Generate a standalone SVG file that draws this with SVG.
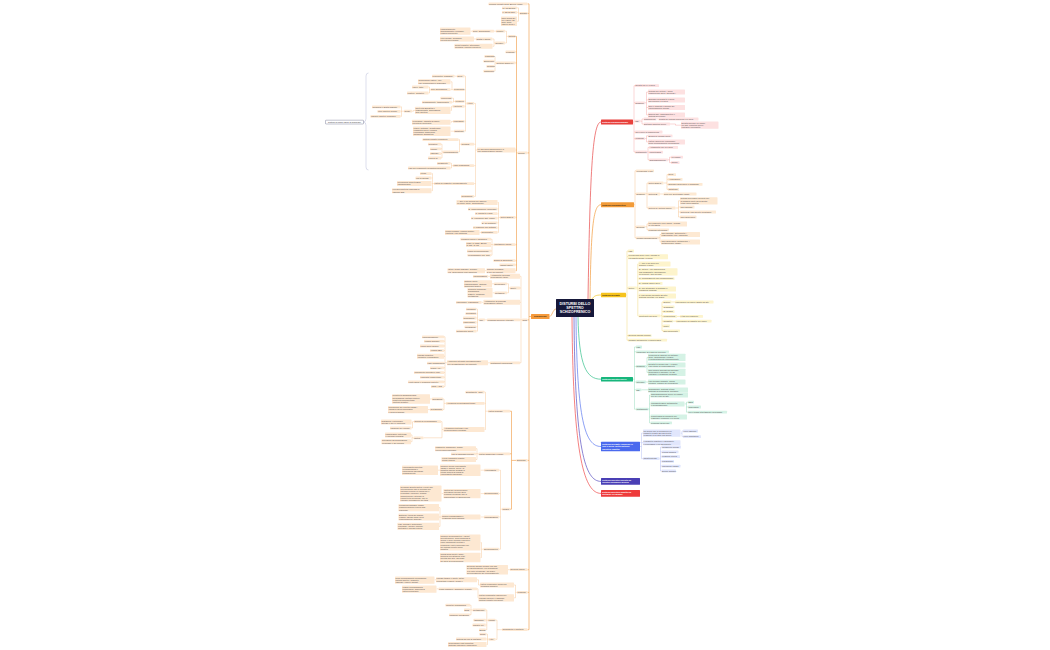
<svg xmlns="http://www.w3.org/2000/svg" width="1050" height="650" viewBox="0 0 1050 650">
<style>
text{font-family:"Liberation Sans",Arial,sans-serif;font-size:2.1px;fill:#4d4d4d}
rect{rx:0.5px;ry:0.5px}
.o rect{fill:#fde8d2}
.r rect{fill:#fde1e1}
.a rect{fill:#fde9d3}
.y rect{fill:#fdf4cc}
.g rect{fill:#d5f2e5}
.b rect{fill:#e1e6fc}
.k text{font-weight:bold;fill:#fff}
.kd text{font-weight:bold;fill:#3a2a12}
#connectors path{fill:none}
.lo{stroke:#f5bd85;stroke-width:0.4}
.ls{stroke:#f2a659;stroke-width:0.7}
.lr{stroke:#f29b9b;stroke-width:0.4}
.la{stroke:#f5b878;stroke-width:0.4}
.ly{stroke:#f0d25e;stroke-width:0.4}
.lg{stroke:#7dd3ae;stroke-width:0.4}
.lb{stroke:#a3b1f3;stroke-width:0.4}
.m{stroke-width:0.7}
</style>
<rect x="0" y="0" width="1050" height="650" fill="#ffffff" style="rx:0"/>
<g id="connectors">
<path class="m" stroke="#f2a04a" d="M556,309C553,309 552,316.5 549.5,316.5"/>
<path class="m" stroke="#e84848" d="M588,299C590,180 592,122 601,122"/>
<path class="m" stroke="#f29b3b" d="M590,299C591,230 593,204.7 601,204.7"/>
<path class="m" stroke="#f3c623" d="M592,299C594,296 596,295 601,295"/>
<path class="m" stroke="#33c08b" d="M578,317C579,365 586,379.2 601,379.2"/>
<path class="m" stroke="#5b78ef" d="M576,317C577,420 585,446.5 601,446.5"/>
<path class="m" stroke="#5a50c0" d="M574,317C575,450 585,481.4 601,481.4"/>
<path class="m" stroke="#ef4a4a" d="M572,317C573,460 585,493.4 601,493.4"/>
<path class="ls" d="M531,316.5H529M529,3.9V629.7M529,3.9H527.5M529,13.4H527.5M529,152.9H527.5M529,319.9H527.5M529,460.4H527.5M529,569.7H527.5M529,592.4H527.5M529,629.7H527.5"/>
<path class="lo" d="M519.5,13.4H518.5M518.5,7.9V21.2M518.5,7.9H517M518.5,12.4H517M518.5,21.2H517"/>
<path class="ls" d="M517.5,152.9H516.5M516.5,36.4V270.7M516.5,36.4H515.5M516.5,51.9H515.5M516.5,62.9H515.5M516.5,150H515.5M516.5,217.4H515.5M516.5,244.6H515.5M516.5,260.6H515.5M516.5,264.9H515.5M516.5,270.7H515.5"/>
<path class="lo" d="M508,36.4H506.5M506.5,31.2V43M506.5,31.2H505M506.5,43H505M496,31.2H494M472.5,31.2H470.5M495,43H494M494,39V46.3M494,39H492.5M494,46.3H492.5M476,39H474"/>
<path class="lo" d="M496,62.9H495M495,56.4V71.2M495,56.4H494M495,61.2H494M495,66.4H494M495,71.2H494"/>
<path class="lo" d="M477,150H475.5M475.5,103.4V196.4M475.5,103.4H474M475.5,144.2H474M475.5,165.7H474M475.5,183.6H474M475.5,196.4H474"/>
<path class="lo" d="M466.5,103.4H465.5M465.5,76.2V131.2M465.5,76.2H464.5M465.5,89.7H464.5M465.5,101.4H464.5M465.5,106.4H464.5M465.5,121.4H464.5M465.5,131.2H464.5M457,76.2H454.5"/>
<path class="lo" d="M453.5,89.7H452M452,81.8V89.7M452,81.8H450.5M452,89.7H450.5M430.5,89.7H429.5M429.5,87V93M429.5,87H428.5M429.5,93H428.5"/>
<path class="lo" d="M455,101.4H453.5M453.5,98.2V102.2M453.5,98.2H452M453.5,102.2H452M452.5,106.4H451.5V110.4H450.5M415,110.4H413.5V111.2H412M404,111.2H401.5M401.5,106.8V116.4M401.5,106.8H400.5M401.5,111.4H400.5M401.5,116.4H400.5"/>
<path class="lo" d="M453,121.4H451.5V122.3H450.5M454,131.2H450.5"/>
<path class="lo" d="M461,144.2H459.5M459.5,139.6V152M459.5,139.6H458.5M459.5,152H458.5M443,152H442M442,144.2V158M442,144.2H441M442,148.8H441M442,153.6H441M442,158H441"/>
<path class="lo" d="M453,165.7H451.5M451.5,163.4V168M451.5,163.4H450.5M451.5,168H450.5M434,183.6H432.5M432.5,173.6V190.7M432.5,173.6H431.5M432.5,178H431.5M432.5,183.5H431.5M432.5,190.7H431.5"/>
<path class="lo" d="M500,217.4H498.5M498.5,202.5V232.4M498.5,202.5H497.5M498.5,209H497.5M498.5,213.6H497.5M498.5,218.2H497.5M498.5,222.8H497.5M498.5,227.6H497.5M498.5,232.4H497.5M481,232.4H479.5"/>
<path class="lo" d="M493.5,244.6H492M492,239.2V255.2M492,239.2H491M492,244.5H491M492,251H491M492,255.2H491M486.5,270.7H485"/>
<path class="lo" d="M522,319.9H521M521,276.3V362.8M521,276.3H520M521,288H520M521,302.3H520M521,319.9H520M521,362.8H520M490,276.3H488"/>
<path class="lo" d="M510,288H508.5M508.5,283.8V292.8M508.5,283.8H507M508.5,292.8H507M494,283.8H492M494.5,292.8H492.5M483.5,302.3H481.5M487,319.9H485"/>
<path class="lo" d="M479,319.9H477.5M477.5,309.2V331.2M477.5,309.2H476.5M477.5,313.6H476.5M477.5,318H476.5M477.5,322.4H476.5M477.5,326.8H476.5M477.5,331.2H476.5M490,362.8H488"/>
<path class="lo" d="M447,362.8H445M445,336.8V386.6M445,336.8H444M445,341.2H444M445,346H444M445,350.6H444M445,356.3H444M445,363.2H444M445,367.8H444M445,372.6H444M445,377.2H444M445,381.8H444M445,386.6H444"/>
<path class="ls" d="M516.5,460.4H511.5M511.5,411.2V509.2M511.5,411.2H510M511.5,453.8H510M511.5,509.2H510"/>
<path class="lo" d="M488,411.2H485.5M485.5,392.2V429.5M485.5,392.2H484.5M485.5,403.4H484.5M485.5,429.5H484.5M446,403.4H444M444,399V409.6M444,399H443M444,409.6H443M432,399H430M430,409.6H428"/>
<path class="lo" d="M443.5,429.5H442M442,421.6V437.8M442,421.6H441M442,437.8H423.5M414,421.6H412.5M412.5,422.1V428M412.5,422.1H411.5M412.5,428H411.5M413.5,437.8H412M412,434.9V441.7M412,434.9H411M412,441.7H411"/>
<path class="lo" d="M478.5,453.8H477M477,448.7V459.5M477,448.7H476M477,453.8H476M477,459.5H476"/>
<path class="lo" d="M502,509.2H500.5M500.5,470.2V549.2M500.5,470.2H499M500.5,493.6H499M500.5,517H499M500.5,549.2H499M484,470.2H480.5M440,470.2H438M484,493.6H480.5M443.5,493.6H441.5M484,517H480.5"/>
<path class="lo" d="M441.5,517H440M440,507.6V526.4M440,507.6H439M440,517H439M440,526.4H439M483.5,549.2H481.5M481.5,542.6V557.5M481.5,542.6H480.5M481.5,557.5H480.5"/>
<path class="lo" d="M510,569.7H508M517,592.4H515.5M515.5,585V597.8M515.5,585H514M515.5,597.8H514M480,585H478.5V579.8H477M436,579.8H434.5M478.5,597.8H478V588.8H477M438.5,588.8H436.5"/>
<path class="lo" d="M502,629.7H497M497,620.2V639.4M497,620.2H495.5M497,639.4H495.5M488,620.2H486.8M486.8,610V629.8M486.8,610H485.8M486.8,620.2H485.8M486.8,625H485.8M486.8,629.8H485.8"/>
<path class="lo" d="M472.5,610H471M471,605.2V614.8M471,605.2H470M471,610H470M471,614.8H470M488.5,639.4H487.5M487.5,634.2V644.5M487.5,634.2H486.5M487.5,639H486.5M487.5,644.5H486.5"/>
<path stroke="#a7abcf" stroke-width="0.4" d="M368.5,73Q366,73 366,76V118.5Q366,122 363.5,122Q366,122 366,125.5V167Q366,170 368.5,170"/>
<path class="lr" d="M633,122H634M634,85.7V152M634,85.7H635M634,102.8H635M634,121.2H635M634,132H635M634,138.6H635M634,152H635"/>
<path class="lr" d="M645,102.8H646.5M646.5,92.1V114.9M646.5,92.1H648M646.5,99.9H648M646.5,107.5H648M646.5,114.9H648"/>
<path class="lr" d="M640.5,121.2H642M642,119V124M642,119H643.5M642,124H643.5M656.5,119H658.5M670,124H675.5V125.2H681"/>
<path class="lr" d="M645,138.6H646.5M646.5,135.8V141.9M646.5,135.8H648M646.5,141.9H648M647,152H648M648,147.4V159.8M648,147.4H649M648,152.2H649M648,159.8H649M668,159.8H669.5M669.5,157.2V162.6M669.5,157.2H671M669.5,162.6H671"/>
<path class="la" d="M634,204.7H635M635,170.8V237.8M635,170.8H636M635,193.8H636M635,226.8H636M635,237.8H636"/>
<path class="la" d="M646,193.8H647M647,183V208M647,183H648M647,194H648M647,208H648M663.5,183H667M667,174.6V189.4M667,174.6H668M667,179.4H668M667,184.4H668M667,189.4H668M660,194H663.5"/>
<path class="la" d="M675.5,208H678.5M678.5,200.8V217M678.5,200.8H680M678.5,207H680M678.5,212H680M678.5,217H680"/>
<path class="la" d="M645,226.8H647M647,223.9V229.8M647,223.9H648M647,229.8H648M659,237.8H660M660,234.5V241.9M660,234.5H661M660,241.9H661"/>
<path class="ly" d="M626,295H627M627,251V340.2M627,251H628M627,256.7H628M627,288H628M627,335.6H628M627,340.2H628"/>
<path class="ly" d="M637,288H637.8M637.8,263.9V315.8M637.8,263.9H638.5M637.8,271.8H638.5M637.8,278.6H638.5M637.8,283.4H638.5M637.8,289.1H638.5M637.8,295.9H638.5M637.8,315.8H638.5"/>
<path class="ly" d="M660.5,315.8H662M662,302V330.8M662,302H663M662,306.8H663M662,311.6H663M662,316.4H663M662,321.2H663M662,326H663M662,330.8H663M671.5,302H675M677,316.4H680M673,321.2H676"/>
<path class="lg" d="M633,379.2H634.5M634.5,347V409.2M634.5,347H636M634.5,351.8H636M634.5,366.4H636M634.5,382H636M634.5,389.8H636M634.5,409.2H636"/>
<path class="lg" d="M646,366.4H647M647,357.4V372.4M647,357.4H648M647,364.9H648M647,372.4H648M646,382H648M641.5,389.8H648"/>
<path class="lg" d="M648.5,409.2H649.5M649.5,395.1V422.8M649.5,395.1H650.5M649.5,403.9H650.5M649.5,416.9H650.5M649.5,422.8H650.5M684.5,403.9H686.5M686.5,402.2V412.2M686.5,402.2H688M686.5,407H688M686.5,412.2H688"/>
<path class="lb" d="M640,446.5H641.5M641.5,433.2V458.6M641.5,433.2H643M641.5,442.7H643M641.5,458.6H643M680.5,433.2H682M682,431V436.6M682,431H683M682,436.6H683"/>
<path class="lb" d="M659.5,458.6H660.5M660.5,447V471M660.5,447H661.5M660.5,451.8H661.5M660.5,456.6H661.5M660.5,461.4H661.5M660.5,466.2H661.5M660.5,471H661.5"/>
</g>
<g id="center"><rect x="556" y="299" width="38" height="18" fill="#16183a"/><text x="575" y="304.6" text-anchor="middle" style="font-size:3.7px;font-weight:bold;fill:#fff">DISTURBI DELLO<tspan x="575" dy="4.4">SPETTRO</tspan><tspan x="575" dy="4.4">SCHIZOFRENICO</tspan></text></g>
<g id="schizofrenia" class="kd"><rect x="531" y="314" width="18.5" height="5" fill="#f59a3c"/><text x="540.25" y="317.3" text-anchor="middle">Schizofrenia</text></g>
<g id="brace-note"><rect x="325.5" y="120.2" width="38" height="3.8" fill="#fff" stroke="#2c2f5a" stroke-width="0.3"/><text x="344.5" y="122.8" text-anchor="middle" style="fill:#333">Sintomi di primo rango di Schneider</text></g>
<g id="l1a" class="o"><rect x="488.5" y="2.5" width="39" height="2.8"/><text x="489.1" y="4.6">Termine coniato da E. Bleuler (1911)</text></g>
<g id="esordio" class="o"><rect x="519.5" y="12" width="8" height="2.8"/><text x="520.1" y="14.1">Esordio</text></g>
<g id="es1" class="o"><rect x="502" y="6.5" width="15" height="2.8"/><text x="502.6" y="8.6">M: 15-25 anni</text></g>
<g id="es2" class="o"><rect x="502" y="11" width="15" height="2.8"/><text x="502.6" y="13.1">F: 25-35 anni</text></g>
<g id="es3" class="o"><rect x="501" y="16.5" width="16" height="9.4"/><text x="501.6" y="18.6">Raro prima dei<tspan x="501.6" dy="2.2">10 e dopo i 50</tspan><tspan x="501.6" dy="2.2">anni; picco</tspan><tspan x="501.6" dy="2.2">tardivo nella F</tspan></text></g>
<g id="clinica" class="o"><rect x="517.5" y="151.5" width="10" height="2.8"/><text x="518.1" y="153.6">Clinica</text></g>
<g id="c1" class="o"><rect x="508" y="35" width="7.5" height="2.8"/><text x="508.5" y="37.1">Sintomi</text></g>
<g id="c1a" class="o"><rect x="496" y="29.8" width="9" height="2.8"/><text x="496.6" y="31.9">Positivi</text></g>
<g id="c1a1" class="o"><rect x="472.5" y="29.8" width="21.5" height="2.8"/><text x="473.1" y="31.9">deliri, allucinazioni</text></g>
<g id="c1a1a" class="o"><rect x="440" y="27.6" width="30.5" height="7.2"/><text x="440.6" y="29.7">comportamento<tspan x="440.6" dy="2.2">disorganizzato o bizzarro,</tspan><tspan x="440.6" dy="2.2">eloquio incoerente</tspan></text></g>
<g id="c1b" class="o"><rect x="495" y="41.6" width="10" height="2.8"/><text x="495.6" y="43.7">Negativi</text></g>
<g id="c1b1" class="o"><rect x="476" y="37.6" width="16.5" height="2.8"/><text x="476.6" y="39.7">apatia e abulia</text></g>
<g id="c1b1a" class="o"><rect x="440" y="36.6" width="34" height="5"/><text x="440.6" y="38.7">ritiro sociale, anedonia,<tspan x="440.6" dy="2.2">povertà dell'eloquio</tspan></text></g>
<g id="c1b2" class="o"><rect x="454.5" y="43.8" width="38" height="5"/><text x="455.1" y="45.9">deficit cognitivi: attenzione,<tspan x="455.1" dy="2.2">memoria, funzioni esecutive</tspan></text></g>
<g id="c2" class="o"><rect x="505.5" y="50.5" width="10" height="2.8"/><text x="506.1" y="52.6">Prodromi</text></g>
<g id="c3" class="o"><rect x="496" y="61.5" width="19.5" height="2.8"/><text x="496.6" y="63.6">Sottotipi (DSM-IV)</text></g>
<g id="c3a" class="o"><rect x="484.5" y="55" width="9.5" height="2.8"/><text x="485.1" y="57.1">Paranoide</text></g>
<g id="c3b" class="o"><rect x="483.5" y="59.8" width="10.5" height="2.8"/><text x="484.1" y="61.9">Ebefrenico</text></g>
<g id="c3c" class="o"><rect x="486.5" y="65" width="7.5" height="2.8"/><text x="487.1" y="67.1">Residuo</text></g>
<g id="c3d" class="o"><rect x="483.5" y="69.8" width="10.5" height="2.8"/><text x="484.1" y="71.9">Catatonico</text></g>
<g id="c4" class="o"><rect x="477" y="147.5" width="38.5" height="5"/><text x="477.6" y="149.6">Le fasi della schizofrenia e le<tspan x="477.6" dy="2.2">sue manifestazioni cliniche</tspan></text></g>
<g id="p1" class="o"><rect x="466.5" y="102" width="7.5" height="2.8"/><text x="467.1" y="104.1">Attiva</text></g>
<g id="p1a" class="o"><rect x="457" y="74.8" width="7.5" height="2.8"/><text x="457.6" y="76.9">Deliri</text></g>
<g id="p1a1" class="o"><rect x="432" y="74.8" width="22.5" height="2.8"/><text x="432.6" y="76.9">persecutori, grandiosi</text></g>
<g id="p1b" class="o"><rect x="453.5" y="88.3" width="11" height="2.8"/><text x="454.1" y="90.4">Percezione</text></g>
<g id="p1b1" class="o"><rect x="418" y="79.3" width="32.5" height="5"/><text x="418.6" y="81.4">allucinazioni uditive: voci<tspan x="418.6" dy="2.2">che commentano o dialogano</tspan></text></g>
<g id="p1b2" class="o"><rect x="430.5" y="88.3" width="20" height="2.8"/><text x="431.1" y="90.4">altre allucinazioni</text></g>
<g id="p1b2a" class="o"><rect x="412" y="85.6" width="16.5" height="2.8"/><text x="412.6" y="87.7">visive, tattili</text></g>
<g id="p1b2b" class="o"><rect x="407" y="91.6" width="21.5" height="2.8"/><text x="407.6" y="93.7">olfattive, gustative</text></g>
<g id="p1c" class="o"><rect x="455" y="100" width="9.5" height="2.8"/><text x="455.6" y="102.1">Pensiero</text></g>
<g id="p1c1" class="o"><rect x="440.5" y="96.8" width="11.5" height="2.8"/><text x="441.1" y="98.9">incoerenza</text></g>
<g id="p1c2" class="o"><rect x="422" y="100.8" width="30" height="2.8"/><text x="422.6" y="102.9">deragliamento, tangenzialità</text></g>
<g id="p1d" class="o"><rect x="452.5" y="105" width="12" height="2.8"/><text x="453.1" y="107.1">Affettività</text></g>
<g id="p1d1" class="o"><rect x="415" y="106.8" width="35.5" height="7.2"/><text x="415.6" y="108.9">affettività appiattita o<tspan x="415.6" dy="2.2">inappropriata, discordanza</tspan><tspan x="415.6" dy="2.2">ideo-affettiva</tspan></text></g>
<g id="p1d1a" class="o"><rect x="404" y="109.8" width="8" height="2.8"/><text x="404.6" y="111.9">Segni</text></g>
<g id="p1d1a1" class="o"><rect x="372" y="105.4" width="28.5" height="2.8"/><text x="372.6" y="107.5">anedonia e apatia marcate</text></g>
<g id="p1d1a2" class="o"><rect x="377.5" y="110" width="23" height="2.8"/><text x="378.1" y="112.1">ritiro emotivo sociale</text></g>
<g id="p1d1a3" class="o"><rect x="370.5" y="115" width="30" height="2.8"/><text x="371.1" y="117.1">risposte emotive incongrue</text></g>
<g id="p1e" class="o"><rect x="453" y="120" width="11.5" height="2.8"/><text x="453.6" y="122.1">Linguaggio</text></g>
<g id="p1e1" class="o"><rect x="412" y="119.8" width="38.5" height="5"/><text x="412.6" y="121.9">neologismi, insalata di parole,<tspan x="412.6" dy="2.2">povertà di contenuto</tspan></text></g>
<g id="p1f" class="o"><rect x="454" y="129.8" width="10.5" height="2.8"/><text x="454.6" y="131.9">Catatonia</text></g>
<g id="p1f1" class="o"><rect x="413" y="126.6" width="37.5" height="9.4"/><text x="413.6" y="128.7">stupor, mutismo, negativismo,<tspan x="413.6" dy="2.2">flessibilità cerea, ecolalia,</tspan><tspan x="413.6" dy="2.2">ecoprassia, manierismi,</tspan><tspan x="413.6" dy="2.2">agitazione afinalistica</tspan></text></g>
<g id="c4b" class="o"><rect x="461" y="142.8" width="13" height="2.8"/><text x="461.6" y="144.9">Residua</text></g>
<g id="c4b1" class="o"><rect x="422.5" y="138.2" width="36" height="2.8"/><text x="423.1" y="140.3">sintomi negativi persistenti</text></g>
<g id="c4b2" class="o"><rect x="443" y="150.6" width="15.5" height="2.8"/><text x="443.6" y="152.7">Funzionamento</text></g>
<g id="c4b2a" class="o"><rect x="428" y="142.8" width="13" height="2.8"/><text x="428.6" y="144.9">lavorativo</text></g>
<g id="c4b2b" class="o"><rect x="430" y="147.4" width="11" height="2.8"/><text x="430.6" y="149.5">sociale</text></g>
<g id="c4b2c" class="o"><rect x="430" y="152.2" width="11" height="2.8"/><text x="430.6" y="154.3">familiare</text></g>
<g id="c4b2d" class="o"><rect x="428" y="156.6" width="13" height="2.8"/><text x="428.6" y="158.7">cura di sé</text></g>
<g id="c4c" class="o"><rect x="453" y="164.3" width="21" height="2.8"/><text x="453.6" y="166.4">Fase prodromica</text></g>
<g id="c4c1" class="o"><rect x="437" y="162" width="13.5" height="2.8"/><text x="437.6" y="164.1">isolamento</text></g>
<g id="c4c2" class="o"><rect x="408" y="166.6" width="42.5" height="2.8"/><text x="408.6" y="168.7">calo del rendimento scolastico/lavorativo</text></g>
<g id="c4d" class="o"><rect x="434" y="182.2" width="40" height="2.8"/><text x="434.6" y="184.3">Fattori di ricaduta e peggioramento</text></g>
<g id="c4d1" class="o"><rect x="420" y="172.2" width="11.5" height="2.8"/><text x="420.6" y="174.3">stress</text></g>
<g id="c4d2" class="o"><rect x="415.5" y="176.6" width="16" height="2.8"/><text x="416.1" y="178.7">uso di droghe</text></g>
<g id="c4d3" class="o"><rect x="397" y="181" width="34.5" height="5"/><text x="397.6" y="183.1">interruzione della terapia<tspan x="397.6" dy="2.2">farmacologica</tspan></text></g>
<g id="c4d4" class="o"><rect x="392" y="188.2" width="39.5" height="5"/><text x="392.6" y="190.3">elevata emotività espressa in<tspan x="392.6" dy="2.2">famiglia (EE)</tspan></text></g>
<g id="c4e" class="o"><rect x="461" y="195" width="13" height="2.8"/><text x="461.6" y="197.1">Remissione</text></g>
<g id="c5" class="o"><rect x="500" y="216" width="15.5" height="2.8"/><text x="500.6" y="218.1">Criteri DSM-5</text></g>
<g id="c5a" class="o"><rect x="456.5" y="200" width="41" height="5"/><text x="457.1" y="202.1">A. due o più sintomi per almeno<tspan x="457.1" dy="2.2">un mese (deliri, allucinazioni)</tspan></text></g>
<g id="c5b" class="o"><rect x="468" y="207.6" width="29.5" height="2.8"/><text x="468.6" y="209.7">B. compromissione funzionale</text></g>
<g id="c5c" class="o"><rect x="475" y="212.2" width="22.5" height="2.8"/><text x="475.6" y="214.3">C. durata ≥ 6 mesi</text></g>
<g id="c5d" class="o"><rect x="471" y="216.8" width="26.5" height="2.8"/><text x="471.6" y="218.9">D. esclusione dist. umore</text></g>
<g id="c5e" class="o"><rect x="481.5" y="221.4" width="16" height="2.8"/><text x="482.1" y="223.5">E. no sostanze</text></g>
<g id="c5f" class="o"><rect x="473" y="226.2" width="24.5" height="2.8"/><text x="473.6" y="228.3">F. relazione con autismo</text></g>
<g id="c5g" class="o"><rect x="481" y="231" width="16.5" height="2.8"/><text x="481.6" y="233.1">Specificatori</text></g>
<g id="c5g1" class="o"><rect x="445" y="230" width="34.5" height="5"/><text x="445.6" y="232.1">primo episodio, episodi multipli,<tspan x="445.6" dy="2.2">continuo, con catatonia</tspan></text></g>
<g id="c6" class="o"><rect x="493.5" y="243.2" width="22" height="2.8"/><text x="494.1" y="245.3">Valutazione clinica</text></g>
<g id="c6a" class="o"><rect x="460.5" y="237.8" width="30.5" height="2.8"/><text x="461.1" y="239.9">colloquio clinico e anamnesi</text></g>
<g id="c6b" class="o"><rect x="466" y="242" width="25" height="5"/><text x="466.6" y="244.1">scale: PANSS, BPRS,<tspan x="466.6" dy="2.2">SANS, SAPS</tspan></text></g>
<g id="c6c" class="o"><rect x="467" y="249.6" width="24" height="2.8"/><text x="467.6" y="251.7">esami neuropsicologici</text></g>
<g id="c6d" class="o"><rect x="467.5" y="253.8" width="23.5" height="2.8"/><text x="468.1" y="255.9">neuroimaging (TC, RM)</text></g>
<g id="c7" class="o"><rect x="493.5" y="259.2" width="22" height="2.8"/><text x="494.1" y="261.3">Esami di laboratorio</text></g>
<g id="c8" class="o"><rect x="499.5" y="263.5" width="16" height="2.8"/><text x="500.1" y="265.6">Insight ridotto</text></g>
<g id="c9" class="o"><rect x="486.5" y="268.2" width="29" height="5"/><text x="487.1" y="270.3">Rischio suicidario:<tspan x="487.1" dy="2.2">5-6% dei pazienti</tspan></text></g>
<g id="c9a" class="o"><rect x="447.5" y="268.2" width="37.5" height="5"/><text x="448.1" y="270.3">fattori: sesso maschile, giovane<tspan x="448.1" dy="2.2">età, depressione post-psicotica</tspan></text></g>
<g id="cura" class="o"><rect x="522" y="318.5" width="5.5" height="2.8"/><text x="522.4" y="320.6">Cura</text></g>
<g id="d1" class="o"><rect x="490" y="273.8" width="30" height="5"/><text x="490.6" y="275.9">Antipsicotici di prima<tspan x="490.6" dy="2.2">generazione (tipici)</tspan></text></g>
<g id="d1a" class="o"><rect x="473" y="274.9" width="15" height="2.8"/><text x="473.6" y="277">clorpromazina</text></g>
<g id="d2" class="o"><rect x="510" y="286.6" width="10" height="2.8"/><text x="510.6" y="288.7">Effetti</text></g>
<g id="d2a" class="o"><rect x="494" y="282.4" width="13" height="2.8"/><text x="494.6" y="284.5">Neurologici</text></g>
<g id="d2a1" class="o"><rect x="464" y="280.2" width="28" height="7.2"/><text x="464.6" y="282.3">distonie acute,<tspan x="464.6" dy="2.2">parkinsonismo, acatisia,</tspan><tspan x="464.6" dy="2.2">discinesia tardiva</tspan></text></g>
<g id="d2b" class="o"><rect x="494.5" y="291.4" width="12.5" height="2.8"/><text x="495.1" y="293.5">Metabolici</text></g>
<g id="d2b1" class="o"><rect x="467.5" y="288.1" width="25" height="9.4"/><text x="468.1" y="290.2">aumento ponderale,<tspan x="468.1" dy="2.2">dislipidemia,</tspan><tspan x="468.1" dy="2.2">diabete, sindrome</tspan><tspan x="468.1" dy="2.2">metabolica</tspan></text></g>
<g id="d3" class="o"><rect x="483.5" y="299.8" width="36.5" height="5"/><text x="484.1" y="301.9">Antipsicotici di seconda<tspan x="484.1" dy="2.2">generazione (atipici)</tspan></text></g>
<g id="d3a" class="o"><rect x="456" y="300.9" width="25.5" height="2.8"/><text x="456.6" y="303">risperidone, olanzapina</text></g>
<g id="d4" class="o"><rect x="487" y="318.5" width="33" height="2.8"/><text x="487.6" y="320.6">Principali molecole utilizzate</text></g>
<g id="d4a" class="o"><rect x="479" y="318.5" width="6" height="2.8"/><text x="479.6" y="320.6">Tipi</text></g>
<g id="d4a1" class="o"><rect x="466" y="307.8" width="10.5" height="2.8"/><text x="466.6" y="309.9">clozapina</text></g>
<g id="d4a2" class="o"><rect x="465.5" y="312.2" width="11" height="2.8"/><text x="466.1" y="314.3">quetiapina</text></g>
<g id="d4a3" class="o"><rect x="463" y="316.6" width="13.5" height="2.8"/><text x="463.6" y="318.7">aripiprazolo</text></g>
<g id="d4a4" class="o"><rect x="463" y="321" width="13.5" height="2.8"/><text x="463.6" y="323.1">paliperidone</text></g>
<g id="d4a5" class="o"><rect x="464.5" y="325.4" width="12" height="2.8"/><text x="465.1" y="327.5">ziprasidone</text></g>
<g id="d4a6" class="o"><rect x="456" y="329.8" width="20.5" height="2.8"/><text x="456.6" y="331.9">antipsicotici depot</text></g>
<g id="d5" class="o"><rect x="490" y="361.4" width="30" height="2.8"/><text x="490.6" y="363.5">Trattamenti psicosociali</text></g>
<g id="d5a" class="o"><rect x="447" y="360.3" width="41" height="5"/><text x="447.6" y="362.4">Approccio integrato multidisciplinare<tspan x="447.6" dy="2.2">per la riabilitazione del paziente</tspan></text></g>
<g id="d5a1" class="o"><rect x="422" y="335.4" width="22" height="2.8"/><text x="422.6" y="337.5">psicoeducazione</text></g>
<g id="d5a2" class="o"><rect x="424" y="339.8" width="20" height="2.8"/><text x="424.6" y="341.9">terapia familiare</text></g>
<g id="d5a3" class="o"><rect x="420" y="344.6" width="24" height="2.8"/><text x="420.6" y="346.7">social skills training</text></g>
<g id="d5a4" class="o"><rect x="430" y="349.2" width="14" height="2.8"/><text x="430.6" y="351.3">terapia CBT</text></g>
<g id="d5a5" class="o"><rect x="417" y="353.8" width="27" height="5"/><text x="417.6" y="355.9">rimedio cognitivo<tspan x="417.6" dy="2.2">(cognitive remediation)</tspan></text></g>
<g id="d5a6" class="o"><rect x="427" y="361.8" width="17" height="2.8"/><text x="427.6" y="363.9">case management</text></g>
<g id="d5a7" class="o"><rect x="430" y="366.4" width="14" height="2.8"/><text x="430.6" y="368.5">gruppi AMA</text></g>
<g id="d5a8" class="o"><rect x="414" y="371.2" width="30" height="2.8"/><text x="414.6" y="373.3">inserimento lavorativo (IPS)</text></g>
<g id="d5a9" class="o"><rect x="420" y="375.8" width="24" height="2.8"/><text x="420.6" y="377.9">comunità terapeutiche</text></g>
<g id="d5a10" class="o"><rect x="408" y="380.4" width="36" height="2.8"/><text x="408.6" y="382.5">centri diurni e residenze protette</text></g>
<g id="d5a11" class="o"><rect x="431" y="385.2" width="13" height="2.8"/><text x="431.6" y="387.3">TSO / ASO</text></g>
<g id="eziologia" class="o"><rect x="516.5" y="459" width="11" height="2.8"/><text x="517.1" y="461.1">Eziologia</text></g>
<g id="e1" class="o"><rect x="488" y="409.8" width="22" height="2.8"/><text x="488.6" y="411.9">Fattori biologici</text></g>
<g id="e1a" class="o"><rect x="465.5" y="390.8" width="19" height="2.8"/><text x="466.1" y="392.9">Ereditarietà ~80%</text></g>
<g id="e1b" class="o"><rect x="446" y="402" width="38.5" height="2.8"/><text x="446.6" y="404.1">Alterazioni neurotrasmettitoriali</text></g>
<g id="e1b1" class="o"><rect x="432" y="397.6" width="11" height="2.8"/><text x="432.6" y="399.7">Dopamina</text></g>
<g id="e1b1a" class="o"><rect x="392" y="394.3" width="38" height="9.4"/><text x="392.6" y="396.4">iperattività dopaminergica<tspan x="392.6" dy="2.2">mesolimbica (sintomi positivi),</tspan><tspan x="392.6" dy="2.2">ipoattività mesocorticale</tspan><tspan x="392.6" dy="2.2">(sintomi negativi)</tspan></text></g>
<g id="e1b2" class="o"><rect x="430" y="408.2" width="13" height="2.8"/><text x="430.6" y="410.3">Glutammato</text></g>
<g id="e1b2a" class="o"><rect x="388" y="406" width="40" height="7.2"/><text x="388.6" y="408.1">ipofunzione dei recettori NMDA<tspan x="388.6" dy="2.2">(modello della fenciclidina</tspan><tspan x="388.6" dy="2.2">e della ketamina)</tspan></text></g>
<g id="e1c" class="o"><rect x="443.5" y="427" width="41" height="5"/><text x="444.1" y="429.1">Alterazioni strutturali e del<tspan x="444.1" dy="2.2">neurosviluppo cerebrale</tspan></text></g>
<g id="e1c1" class="o"><rect x="414" y="420.2" width="27" height="2.8"/><text x="414.6" y="422.3">Reperti di neuroimaging</text></g>
<g id="e1c1a" class="o"><rect x="381" y="419.6" width="30.5" height="5"/><text x="381.6" y="421.7">dilatazione ventricolare<tspan x="381.6" dy="2.2">laterale e del III ventricolo</tspan></text></g>
<g id="e1c1b" class="o"><rect x="390" y="426.6" width="21.5" height="2.8"/><text x="390.6" y="428.7">riduzione del volume</text></g>
<g id="e1c2" class="o"><rect x="413.5" y="436.4" width="10" height="2.8"/><text x="414.1" y="438.5">Ipotesi</text></g>
<g id="e1c2a" class="o"><rect x="385" y="432.4" width="26" height="5"/><text x="385.6" y="434.5">complicanze ostetriche<tspan x="385.6" dy="2.2">e infezioni prenatali</tspan></text></g>
<g id="e1c2b" class="o"><rect x="381.5" y="439.2" width="29.5" height="5"/><text x="382.1" y="441.3">alterazioni della migrazione<tspan x="382.1" dy="2.2">neuronale e del pruning</tspan></text></g>
<g id="e2" class="o"><rect x="478.5" y="452.4" width="31.5" height="2.8"/><text x="479.1" y="454.5">Fattori ambientali e sociali</text></g>
<g id="e2a" class="o"><rect x="435" y="446.2" width="41" height="5"/><text x="435.6" y="448.3">urbanicità, migrazione, basso<tspan x="435.6" dy="2.2">livello socioeconomico</tspan></text></g>
<g id="e2b" class="o"><rect x="451" y="452.4" width="25" height="2.8"/><text x="451.6" y="454.5">uso di cannabis precoce</text></g>
<g id="e2c" class="o"><rect x="441.5" y="457" width="34.5" height="5"/><text x="442.1" y="459.1">eventi traumatici infantili,<tspan x="442.1" dy="2.2">stress cronico</tspan></text></g>
<g id="e3" class="o"><rect x="502" y="507.8" width="8" height="2.8"/><text x="502.5" y="509.9">Modelli</text></g>
<g id="e3a" class="o"><rect x="484" y="468.8" width="15" height="2.8"/><text x="484.6" y="470.9">Vulnerabilità</text></g>
<g id="e3a1" class="o"><rect x="440" y="464.4" width="40.5" height="11.6"/><text x="440.6" y="466.5">Modello stress-vulnerabilità<tspan x="440.6" dy="2.2">(Zubin e Spring, 1977): la</tspan><tspan x="440.6" dy="2.2">malattia insorge quando lo</tspan><tspan x="440.6" dy="2.2">stress supera la soglia di</tspan><tspan x="440.6" dy="2.2">vulnerabilità individuale</tspan></text></g>
<g id="e3a1a" class="o"><rect x="402" y="465.5" width="36" height="9.4"/><text x="402.6" y="467.6">vulnerabilità genetica,<tspan x="402.6" dy="2.2">neurobiologica e</tspan><tspan x="402.6" dy="2.2">psicologica individuale</tspan><tspan x="402.6" dy="2.2">predisponente</tspan></text></g>
<g id="e3b" class="o"><rect x="484" y="492.2" width="15" height="2.8"/><text x="484.6" y="494.3">Neurosviluppo</text></g>
<g id="e3b1" class="o"><rect x="443.5" y="488.9" width="37" height="9.4"/><text x="444.1" y="491">Ipotesi del neurosviluppo:<tspan x="444.1" dy="2.2">alterazioni precoci dello</tspan><tspan x="444.1" dy="2.2">sviluppo cerebrale che si</tspan><tspan x="444.1" dy="2.2">manifestano in adolescenza</tspan></text></g>
<g id="e3b1a" class="o"><rect x="400" y="485.6" width="41.5" height="16"/><text x="400.6" y="487.7">Secondo questa ipotesi, eventi che<tspan x="400.6" dy="2.2">interferiscono con lo sviluppo del</tspan><tspan x="400.6" dy="2.2">sistema nervoso in epoca pre e</tspan><tspan x="400.6" dy="2.2">perinatale (infezioni, ipossia,</tspan><tspan x="400.6" dy="2.2">malnutrizione) alterano la</tspan><tspan x="400.6" dy="2.2">connettività neuronale, che si</tspan><tspan x="400.6" dy="2.2">esprime clinicamente più tardi</tspan></text></g>
<g id="e3c" class="o"><rect x="484" y="515.6" width="15" height="2.8"/><text x="484.6" y="517.7">Psicodinamico</text></g>
<g id="e3c1" class="o"><rect x="441.5" y="514.5" width="39" height="5"/><text x="442.1" y="516.6">Modelli psicodinamici e<tspan x="442.1" dy="2.2">relazionali della famiglia</tspan></text></g>
<g id="e3c1a" class="o"><rect x="398.5" y="504" width="40.5" height="7.2"/><text x="399.1" y="506.1">Fromm-Reichmann: madre<tspan x="399.1" dy="2.2">schizofrenogena (teoria oggi</tspan><tspan x="399.1" dy="2.2">superata)</tspan></text></g>
<g id="e3c1b" class="o"><rect x="398.5" y="513.4" width="40.5" height="7.2"/><text x="399.1" y="515.5">Bateson: teoria del doppio<tspan x="399.1" dy="2.2">legame (double bind) nella</tspan><tspan x="399.1" dy="2.2">comunicazione familiare</tspan></text></g>
<g id="e3c1c" class="o"><rect x="397.5" y="522.8" width="41.5" height="7.2"/><text x="398.1" y="524.9">Lidz: scisma e distorsione<tspan x="398.1" dy="2.2">coniugale; Wynne: pseudo-</tspan><tspan x="398.1" dy="2.2">mutualità e pseudo-ostilità</tspan></text></g>
<g id="e3d" class="o"><rect x="483.5" y="547.8" width="15.5" height="2.8"/><text x="484.1" y="549.9">Neurocognitivo</text></g>
<g id="e3d1" class="o"><rect x="440" y="534.6" width="40.5" height="16"/><text x="440.6" y="536.7">Modello neurocognitivo: i deficit<tspan x="440.6" dy="2.2">dell'attenzione, della memoria di</tspan><tspan x="440.6" dy="2.2">lavoro e delle funzioni esecutive</tspan><tspan x="440.6" dy="2.2">sono considerati centrali e</tspan><tspan x="440.6" dy="2.2">predicono l'esito funzionale più</tspan><tspan x="440.6" dy="2.2">dei sintomi positivi della</tspan><tspan x="440.6" dy="2.2">malattia</tspan></text></g>
<g id="e3d2" class="o"><rect x="440" y="552.8" width="40.5" height="9.4"/><text x="440.6" y="554.9">Teoria della mente (ToM):<tspan x="440.6" dy="2.2">difficoltà nell'attribuire stati</tspan><tspan x="440.6" dy="2.2">mentali agli altri, alla base</tspan><tspan x="440.6" dy="2.2">dei deliri di persecuzione</tspan></text></g>
<g id="decorso" class="o"><rect x="510" y="568.3" width="17.5" height="2.8"/><text x="510.6" y="570.4">Decorso clinico</text></g>
<g id="decorso1" class="o"><rect x="466.5" y="565" width="41.5" height="9.4"/><text x="467.1" y="567.1">Decorso spesso cronico con fasi<tspan x="467.1" dy="2.2">di riacutizzazione: 1/3 remissione,</tspan><tspan x="467.1" dy="2.2">1/3 esito intermedio, 1/3 grave</tspan><tspan x="467.1" dy="2.2">deterioramento del funzionamento</tspan></text></g>
<g id="prognosi" class="o"><rect x="517" y="591" width="10.5" height="2.8"/><text x="517.6" y="593.1">Prognosi</text></g>
<g id="pr1" class="o"><rect x="480" y="582.5" width="34" height="5"/><text x="480.6" y="584.6">Fattori prognostici favorevoli<tspan x="480.6" dy="2.2">(prognosi migliore)</tspan></text></g>
<g id="pr1a" class="o"><rect x="436" y="577.3" width="41" height="5"/><text x="436.6" y="579.4">esordio tardivo e acuto, fattori<tspan x="436.6" dy="2.2">precipitanti evidenti, sesso F</tspan></text></g>
<g id="pr1b" class="o"><rect x="395" y="576.5" width="39.5" height="7.2"/><text x="395.6" y="578.6">buon funzionamento premorboso,<tspan x="395.6" dy="2.2">sintomi affettivi, supporto</tspan><tspan x="395.6" dy="2.2">familiare, essere sposati</tspan></text></g>
<g id="pr2" class="o"><rect x="478.5" y="594.2" width="35.5" height="7.2"/><text x="479.1" y="596.3">Fattori prognostici sfavorevoli:<tspan x="479.1" dy="2.2">esordio precoce e insidioso,</tspan><tspan x="479.1" dy="2.2">sintomi negativi prevalenti</tspan></text></g>
<g id="pr2a" class="o"><rect x="438.5" y="587.4" width="38.5" height="2.8"/><text x="439.1" y="589.5">sesso maschile, familiarità, celibato</text></g>
<g id="pr2b" class="o"><rect x="402" y="585.6" width="34.5" height="7.2"/><text x="402.6" y="587.7">scarso funzionamento<tspan x="402.6" dy="2.2">premorboso, assenza di</tspan><tspan x="402.6" dy="2.2">fattori precipitanti</tspan></text></g>
<g id="comorb" class="o"><rect x="502" y="628.3" width="25.5" height="2.8"/><text x="502.6" y="630.4">Comorbilità e mortalità</text></g>
<g id="m1" class="o"><rect x="488" y="618.8" width="7.5" height="2.8"/><text x="488.5" y="620.9">Fisiche</text></g>
<g id="m1a" class="o"><rect x="472.5" y="608.6" width="13.3" height="2.8"/><text x="473.1" y="610.7">Metaboliche</text></g>
<g id="m1a1" class="o"><rect x="445.5" y="603.8" width="24.5" height="2.8"/><text x="446.1" y="605.9">obesità e dislipidemia</text></g>
<g id="m1a2" class="o"><rect x="464" y="608.6" width="6" height="2.8"/><text x="464.6" y="610.7">DM2</text></g>
<g id="m1a3" class="o"><rect x="449" y="613.4" width="21" height="2.8"/><text x="449.6" y="615.5">sindrome metabolica</text></g>
<g id="m1b" class="o"><rect x="473.5" y="618.8" width="12.3" height="2.8"/><text x="474.1" y="620.9">tabagismo</text></g>
<g id="m1c" class="o"><rect x="472.5" y="623.6" width="13.3" height="2.8"/><text x="473.1" y="625.7">malattie CV</text></g>
<g id="m1d" class="o"><rect x="479" y="628.4" width="6.8" height="2.8"/><text x="479.6" y="630.5">BPCO</text></g>
<g id="m2" class="o"><rect x="488.5" y="638" width="7" height="2.8"/><text x="489.1" y="640.1">Altre</text></g>
<g id="m2a" class="o"><rect x="479.5" y="632.8" width="7" height="2.8"/><text x="480.1" y="634.9">ansia</text></g>
<g id="m2b" class="o"><rect x="456" y="637.6" width="30.5" height="2.8"/><text x="456.6" y="639.7">disturbi da uso di sostanze</text></g>
<g id="m2c" class="o"><rect x="448" y="642" width="38.5" height="5"/><text x="448.6" y="644.1">depressione post-psicotica,<tspan x="448.6" dy="2.2">disturbo ossessivo-compulsivo</tspan></text></g>
<g id="schizofreniforme" class="k"><rect x="601" y="119.5" width="32" height="5" fill="#e8413d"/><text x="602.2" y="122.8">Disturbo schizofreniforme</text></g>
<g id="r1" class="r"><rect x="635" y="84.3" width="24" height="2.8"/><text x="635.6" y="86.4">Durata tra 1 e 6 mesi</text></g>
<g id="r2" class="r"><rect x="635" y="101.4" width="10" height="2.8"/><text x="635.6" y="103.5">Diagnosi</text></g>
<g id="r2a" class="r"><rect x="648" y="89.6" width="37" height="5"/><text x="648.6" y="91.7">Sintomi del criterio A della<tspan x="648.6" dy="2.2">schizofrenia (deliri, allucinaz.)</tspan></text></g>
<g id="r2b" class="r"><rect x="648" y="97.4" width="37" height="5"/><text x="648.6" y="99.5">Episodio di durata ≥ 1 mese<tspan x="648.6" dy="2.2">ma inferiore a 6 mesi</tspan></text></g>
<g id="r2c" class="r"><rect x="648" y="105" width="37" height="5"/><text x="648.6" y="107.1">Non è richiesto il declino del<tspan x="648.6" dy="2.2">funzionamento sociale</tspan></text></g>
<g id="r2d" class="r"><rect x="648" y="112.4" width="37" height="5"/><text x="648.6" y="114.5">Esclusi dist. schizoaffettivo e<tspan x="648.6" dy="2.2">disturbi dell'umore</tspan></text></g>
<g id="r3" class="r"><rect x="635" y="119.8" width="5.5" height="2.8"/><text x="635.5" y="121.9">DD</text></g>
<g id="r3a" class="r"><rect x="643.5" y="117.6" width="13" height="2.8"/><text x="644.1" y="119.7">Schizofrenia</text></g>
<g id="r3a1" class="r"><rect x="658.5" y="117.6" width="40" height="2.8"/><text x="659.1" y="119.7">durata dei sintomi superiore a 6 mesi</text></g>
<g id="r3b" class="r"><rect x="643.5" y="122.6" width="26.5" height="2.8"/><text x="644.1" y="124.7">Disturbo psicotico breve</text></g>
<g id="r3b1" class="r"><rect x="681" y="121.6" width="37.5" height="7.2"/><text x="681.6" y="123.7">Durata inferiore a 1 mese<tspan x="681.6" dy="2.2">nel dist. psicotico breve;</tspan><tspan x="681.6" dy="2.2">sostanze nell'indotto</tspan></text></g>
<g id="r4" class="r"><rect x="635" y="130.6" width="27.5" height="2.8"/><text x="635.6" y="132.7">2/3 evolve in schizofrenia</text></g>
<g id="r5" class="r"><rect x="635" y="137.2" width="10" height="2.8"/><text x="635.6" y="139.3">Prognosi</text></g>
<g id="r5a" class="r"><rect x="648" y="134.4" width="24.5" height="2.8"/><text x="648.6" y="136.5">Buona se esordio acuto</text></g>
<g id="r5b" class="r"><rect x="648" y="139.4" width="37" height="5"/><text x="648.6" y="141.5">Fattori favorevoli: confusione,<tspan x="648.6" dy="2.2">buon funzionamento premorboso</tspan></text></g>
<g id="r6" class="r"><rect x="635" y="150.6" width="12" height="2.8"/><text x="635.6" y="152.7">Trattamento</text></g>
<g id="r6a" class="r"><rect x="649" y="146" width="29" height="2.8"/><text x="649.6" y="148.1">Antipsicotici per 3-6 mesi</text></g>
<g id="r6b" class="r"><rect x="649" y="150.8" width="14" height="2.8"/><text x="649.6" y="152.9">Psicoterapia</text></g>
<g id="r6c" class="r"><rect x="649" y="158.4" width="19" height="2.8"/><text x="649.6" y="160.5">Ospedalizzazione</text></g>
<g id="r6c1" class="r"><rect x="671" y="155.8" width="12" height="2.8"/><text x="671.6" y="157.9">se rischio</text></g>
<g id="r6c2" class="r"><rect x="671" y="161.2" width="8.5" height="2.8"/><text x="671.6" y="163.3">acuzie</text></g>
<g id="schizoaffettivo" class="kd"><rect x="601" y="202.2" width="33" height="5" fill="#f29b38"/><text x="602.2" y="205.5">Disturbo schizoaffettivo</text></g>
<g id="o1" class="a"><rect x="636" y="169.4" width="18" height="2.8"/><text x="636.6" y="171.5">Prevalenza: 0,3%</text></g>
<g id="o2" class="a"><rect x="636" y="192.4" width="10" height="2.8"/><text x="636.6" y="194.5">Diagnosi</text></g>
<g id="o2a" class="a"><rect x="648" y="181.6" width="15.5" height="2.8"/><text x="648.6" y="183.7">Criteri DSM-5</text></g>
<g id="o2a1" class="a"><rect x="668" y="173.2" width="8" height="2.8"/><text x="668.6" y="175.3">Deliri</text></g>
<g id="o2a2" class="a"><rect x="668" y="178" width="14.5" height="2.8"/><text x="668.6" y="180.1">Allucinazioni</text></g>
<g id="o2a3" class="a"><rect x="668" y="183" width="34.5" height="2.8"/><text x="668.6" y="185.1">Episodio depressivo o maniacale</text></g>
<g id="o2a4" class="a"><rect x="668" y="188" width="11" height="2.8"/><text x="668.6" y="190.1">Catatonia</text></g>
<g id="o2b" class="a"><rect x="648" y="192.6" width="12" height="2.8"/><text x="648.6" y="194.7">Criterio B</text></g>
<g id="o2b1" class="a"><rect x="663.5" y="192.6" width="33" height="2.8"/><text x="664.1" y="194.7">deliri per 2 settimane isolati</text></g>
<g id="o2c" class="a"><rect x="648" y="206.6" width="27.5" height="2.8"/><text x="648.6" y="208.7">Criterio C: sintomi umore</text></g>
<g id="o2c1" class="a"><rect x="680" y="197.2" width="37.5" height="7.2"/><text x="680.6" y="199.3">Sintomi dell'umore presenti per<tspan x="680.6" dy="2.2">la maggior parte della durata</tspan><tspan x="680.6" dy="2.2">totale della malattia</tspan></text></g>
<g id="o2c2" class="a"><rect x="680" y="205.6" width="14.5" height="2.8"/><text x="680.6" y="207.7">Tipo bipolare</text></g>
<g id="o2c3" class="a"><rect x="680" y="210.6" width="36" height="2.8"/><text x="680.6" y="212.7">Criterio D: non dovuto a sostanze</text></g>
<g id="o2c4" class="a"><rect x="680" y="215.6" width="16.5" height="2.8"/><text x="680.6" y="217.7">Tipo depressivo</text></g>
<g id="o3" class="a"><rect x="636" y="225.4" width="9" height="2.8"/><text x="636.6" y="227.5">Decorso</text></g>
<g id="o3a" class="a"><rect x="648" y="221.4" width="39" height="5"/><text x="648.6" y="223.5">Più frequente nelle donne, esordio<tspan x="648.6" dy="2.2">in età adulta</tspan></text></g>
<g id="o3b" class="a"><rect x="648" y="228.4" width="21" height="2.8"/><text x="648.6" y="230.5">Prognosi intermedia</text></g>
<g id="o4" class="a"><rect x="636" y="236.4" width="23" height="2.8"/><text x="636.6" y="238.5">Terapia farmacologica</text></g>
<g id="o4a" class="a"><rect x="661" y="232" width="39" height="5"/><text x="661.6" y="234.1">Tipo bipolare: antipsicotici +<tspan x="661.6" dy="2.2">stabilizzatori (litio, valproato)</tspan></text></g>
<g id="o4b" class="a"><rect x="661" y="239.4" width="39" height="5"/><text x="661.6" y="241.5">Tipo depressivo: antipsicotici +<tspan x="661.6" dy="2.2">antidepressivi (SSRI)</tspan></text></g>
<g id="delirante" class="kd"><rect x="601" y="292.8" width="25" height="4.4" fill="#f6c31c"/><text x="602.2" y="295.8">Disturbo delirante</text></g>
<g id="y1" class="y"><rect x="628" y="249.6" width="6" height="2.8"/><text x="628.6" y="251.7">F22</text></g>
<g id="y2" class="y"><rect x="628" y="254.2" width="40" height="5"/><text x="628.6" y="256.3">Prevalenza dello 0,2%; esordio in<tspan x="628.6" dy="2.2">età adulta media (40 anni)</tspan></text></g>
<g id="y3" class="y"><rect x="628" y="286.6" width="9" height="2.8"/><text x="628.6" y="288.7">Criteri</text></g>
<g id="y3a" class="y"><rect x="638.5" y="261.4" width="32" height="5"/><text x="639.1" y="263.5">A. uno o più deliri per<tspan x="639.1" dy="2.2">almeno 1 mese</tspan></text></g>
<g id="y3b" class="y"><rect x="638.5" y="268.2" width="39" height="7.2"/><text x="639.1" y="270.3">B. criterio A per schizofrenia<tspan x="639.1" dy="2.2">mai soddisfatto; allucinazioni,</tspan><tspan x="639.1" dy="2.2">se presenti, non rilevanti</tspan></text></g>
<g id="y3c" class="y"><rect x="638.5" y="277.2" width="36" height="2.8"/><text x="639.1" y="279.3">C. funzionamento non compromesso</text></g>
<g id="y3d" class="y"><rect x="638.5" y="282" width="24" height="2.8"/><text x="639.1" y="284.1">D. episodi umore brevi</text></g>
<g id="y3e" class="y"><rect x="638.5" y="286.6" width="37.5" height="5"/><text x="639.1" y="288.7">E. non attribuibile a sostanze o<tspan x="639.1" dy="2.2">condizioni mediche</tspan></text></g>
<g id="y3f" class="y"><rect x="638.5" y="293.4" width="37.5" height="5"/><text x="639.1" y="295.5">F. non meglio spiegato da altro<tspan x="639.1" dy="2.2">disturbo mentale (es. DOC)</tspan></text></g>
<g id="y3g" class="y"><rect x="638.5" y="314.4" width="22" height="2.8"/><text x="639.1" y="316.5">Contenuto dei deliri</text></g>
<g id="y3g1" class="y"><rect x="663" y="300.6" width="8.5" height="2.8"/><text x="663.6" y="302.7">Erotico</text></g>
<g id="y3g1a" class="y"><rect x="675" y="300.6" width="38.5" height="2.8"/><text x="675.6" y="302.7">convinzione di essere amato da altri</text></g>
<g id="y3g2" class="y"><rect x="663" y="305.4" width="11.5" height="2.8"/><text x="663.6" y="307.5">Grandioso</text></g>
<g id="y3g3" class="y"><rect x="663" y="310.2" width="11.5" height="2.8"/><text x="663.6" y="312.3">Di gelosia</text></g>
<g id="y3g4" class="y"><rect x="663" y="315" width="14" height="2.8"/><text x="663.6" y="317.1">Persecutorio</text></g>
<g id="y3g4a" class="y"><rect x="680" y="315" width="23" height="2.8"/><text x="680.6" y="317.1">il tipo più frequente</text></g>
<g id="y3g5" class="y"><rect x="663" y="319.8" width="10" height="2.8"/><text x="663.6" y="321.9">Somatico</text></g>
<g id="y3g5a" class="y"><rect x="676" y="319.8" width="35.5" height="2.8"/><text x="676.6" y="321.9">convinzioni su malattie del corpo</text></g>
<g id="y3g6" class="y"><rect x="663" y="324.6" width="7" height="2.8"/><text x="663.6" y="326.7">Misto</text></g>
<g id="y3g7" class="y"><rect x="663" y="329.4" width="17" height="2.8"/><text x="663.6" y="331.5">Non specificato</text></g>
<g id="y4" class="y"><rect x="628" y="334.2" width="23.5" height="2.8"/><text x="628.6" y="336.3">Decorso spesso cronico</text></g>
<g id="y5" class="y"><rect x="628" y="338.8" width="39" height="2.8"/><text x="628.6" y="340.9">Terapia: antipsicotici e psicoterapia</text></g>
<g id="psicotico-breve" class="k"><rect x="601" y="377" width="32" height="4.4" fill="#17b67c"/><text x="602.2" y="380">Disturbo psicotico breve</text></g>
<g id="g1" class="g"><rect x="636" y="345.6" width="6" height="2.8"/><text x="636.6" y="347.7">F23</text></g>
<g id="g2" class="g"><rect x="636" y="350.4" width="33" height="2.8"/><text x="636.6" y="352.5">Incidenza: 2-7 casi per 100.000</text></g>
<g id="g3" class="g"><rect x="636" y="365" width="10" height="2.8"/><text x="636.6" y="367.1">Diagnosi</text></g>
<g id="g3a" class="g"><rect x="648" y="353.8" width="37.5" height="7.2"/><text x="648.6" y="355.9">Presenza di almeno un sintomo:<tspan x="648.6" dy="2.2">deliri, allucinazioni, eloquio</tspan><tspan x="648.6" dy="2.2">o comportamento disorganizzato</tspan></text></g>
<g id="g3b" class="g"><rect x="648" y="362.4" width="37.5" height="5"/><text x="648.6" y="364.5">Durata ≥ 1 giorno ma &lt; 1 mese,<tspan x="648.6" dy="2.2">con ritorno al funzionamento</tspan></text></g>
<g id="g3c" class="g"><rect x="648" y="368.8" width="37.5" height="7.2"/><text x="648.6" y="370.9">Non meglio spiegato da disturbo<tspan x="648.6" dy="2.2">depressivo o bipolare, né da</tspan><tspan x="648.6" dy="2.2">sostanze o condizioni mediche</tspan></text></g>
<g id="g4" class="g"><rect x="636" y="380.6" width="10" height="2.8"/><text x="636.6" y="382.7">Stressor</text></g>
<g id="g4a" class="g"><rect x="648" y="379.6" width="37.5" height="5"/><text x="648.6" y="381.7">con stressor marcato, senza<tspan x="648.6" dy="2.2">stressor, esordio nel peripartum</tspan></text></g>
<g id="g5" class="g"><rect x="636" y="388.4" width="5.5" height="2.8"/><text x="636.5" y="390.5">DD</text></g>
<g id="g5a" class="g"><rect x="648" y="387.4" width="40" height="5"/><text x="648.6" y="389.5">Simulazione, disturbo fittizio,<tspan x="648.6" dy="2.2">disturbo di personalità, sostanze</tspan></text></g>
<g id="g6" class="g"><rect x="636" y="407.8" width="12.5" height="2.8"/><text x="636.6" y="409.9">Trattamento</text></g>
<g id="g6a" class="g"><rect x="650.5" y="392.6" width="37.5" height="5"/><text x="651.1" y="394.7">Ospedalizzazione breve se rischio<tspan x="651.1" dy="2.2">per sé o per gli altri</tspan></text></g>
<g id="g6b" class="g"><rect x="650.5" y="401.4" width="34" height="5"/><text x="651.1" y="403.5">Farmacoterapia: antipsicotici<tspan x="651.1" dy="2.2">e benzodiazepine</tspan></text></g>
<g id="g6b1" class="g"><rect x="688" y="400.8" width="6" height="2.8"/><text x="688.6" y="402.9">BDZ</text></g>
<g id="g6b2" class="g"><rect x="688" y="405.6" width="13" height="2.8"/><text x="688.6" y="407.7">aloperidolo</text></g>
<g id="g6b3" class="g"><rect x="688" y="410.8" width="39" height="2.8"/><text x="688.6" y="412.9">per il tempo strettamente necessario</text></g>
<g id="g6c" class="g"><rect x="650.5" y="414.4" width="36.5" height="5"/><text x="651.1" y="416.5">Psicoterapia di supporto per<tspan x="651.1" dy="2.2">elaborare l'episodio e lo stress</tspan></text></g>
<g id="g6d" class="g"><rect x="650.5" y="421.4" width="21.5" height="2.8"/><text x="651.1" y="423.5">Prognosi favorevole</text></g>
<g id="condiviso" class="k"><rect x="601" y="441.8" width="39" height="9.4" fill="#4b6aee"/><text x="602.2" y="444.6">Disturbo delirante condiviso (o<tspan x="602.2" dy="2.6">folie à deux) (detto disturbo</tspan><tspan x="602.2" dy="2.6">psicotico indotto)</tspan></text></g>
<g id="b1" class="b"><rect x="643" y="429.6" width="37.5" height="7.2"/><text x="643.6" y="431.7">Un delirio che si sviluppa in un<tspan x="643.6" dy="2.2">soggetto legato da una stretta</tspan><tspan x="643.6" dy="2.2">relazione a un altro con delirio</tspan></text></g>
<g id="b1a" class="b"><rect x="683" y="429.6" width="15" height="2.8"/><text x="683.6" y="431.7">Folie imposée</text></g>
<g id="b1b" class="b"><rect x="683" y="435.2" width="18" height="2.8"/><text x="683.6" y="437.3">Folie simultanée</text></g>
<g id="b2" class="b"><rect x="643" y="440.2" width="37.5" height="5"/><text x="643.6" y="442.3">Il soggetto induttore è dominante,<tspan x="643.6" dy="2.2">il secondario è più dipendente</tspan></text></g>
<g id="b3" class="b"><rect x="643" y="457.2" width="16.5" height="2.8"/><text x="643.6" y="459.3">Caratteristiche</text></g>
<g id="b3a" class="b"><rect x="661.5" y="445.6" width="19.5" height="2.8"/><text x="662.1" y="447.7">isolamento sociale</text></g>
<g id="b3b" class="b"><rect x="661.5" y="450.4" width="17" height="2.8"/><text x="662.1" y="452.5">stessa famiglia</text></g>
<g id="b3c" class="b"><rect x="661.5" y="455.2" width="18.5" height="2.8"/><text x="662.1" y="457.3">relazione stretta</text></g>
<g id="b3d" class="b"><rect x="661.5" y="460" width="12.5" height="2.8"/><text x="662.1" y="462.1">separazione</text></g>
<g id="b3e" class="b"><rect x="661.5" y="464.8" width="19" height="2.8"/><text x="662.1" y="466.9">risoluzione rapida</text></g>
<g id="b3f" class="b"><rect x="661.5" y="469.6" width="14.5" height="2.8"/><text x="662.1" y="471.7">Donne anziane</text></g>
<g id="condizione-medica" class="k"><rect x="601" y="478" width="39" height="6.8" fill="#4a3fb5"/><text x="602.2" y="480.8">Disturbo psicotico dovuto ad<tspan x="602.2" dy="2.6">un'altra condizione medica</tspan></text></g>
<g id="sostanze" class="k"><rect x="601" y="490" width="39" height="6.8" fill="#ee3b3b"/><text x="602.2" y="492.8">Disturbo psicotico indotto da<tspan x="602.2" dy="2.6">sostanze e/o farmaci</tspan></text></g>
</svg>
